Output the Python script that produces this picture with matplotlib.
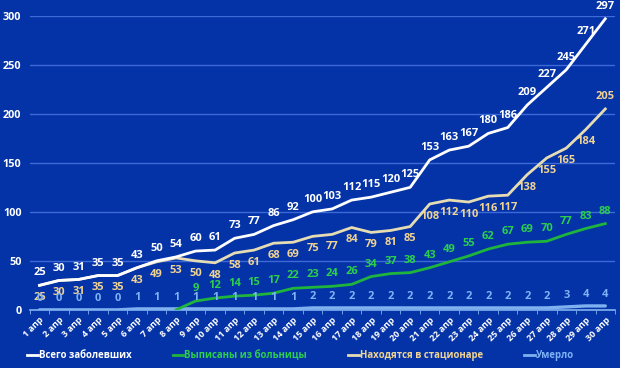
import matplotlib
matplotlib.use("Agg")
import matplotlib.pyplot as plt
from matplotlib.lines import Line2D
import numpy as np

# --- data: апрель, по дням ---
days = list(range(1, 31))
day_labels = [f"{d} апр" for d in days]
total = [25, 30, 31, 35, 35, 43, 50, 54, 60, 61, 73, 77, 86, 92, 100,
         103, 112, 115, 120, 125, 153, 163, 167, 180, 186, 209, 227, 245, 271, 297]
hospital = [25, 30, 31, 35, 35, 43, 49, 53, 50, 48, 58, 61, 68, 69, 75,
            77, 84, 79, 81, 85, 108, 112, 110, 116, 117, 138, 155, 165, 184, 205]
# выписанные: линия начинается с 8 апр (0), подписи с 9 апр
discharged = [None] * 7 + [0, 9, 12, 14, 15, 17, 22, 23, 24, 26, 34, 37, 38,
                           43, 49, 55, 62, 67, 69, 70, 77, 83, 88]
died = [0, 0, 0, 0, 0, 1, 1, 1, 1, 1, 1, 1, 1, 1, 2,
        2, 2, 2, 2, 2, 2, 2, 2, 2, 2, 2, 2, 3, 4, 4]

BG = "#0433a8"
GRID = "#3d6bd6"
C_TOT = "#ffffff"
C_HOS_LINE = "#e6dcb4"
C_HOS_TXT = "#f0d393"
C_DIS_LINE = "#1fb53c"
C_DIS_TXT = "#2ccf4c"
C_DIE_LINE = "#7fb0f0"
C_DIE_TXT = "#7fb2f5"

plt.rcParams.update({
    "font.family": ["Open Sans", "DejaVu Sans"],
    "font.weight": "bold",
})

fig = plt.figure(figsize=(6.2, 3.68), dpi=100, facecolor=BG)
ax = fig.add_axes([0.048, 0.158, 0.944, 0.799], facecolor=BG)

x = np.array(days)
dis = np.array([np.nan if v is None else v for v in discharged], dtype=float)

ax.plot(x, died, color=C_DIE_LINE, lw=2.4, solid_capstyle="round", zorder=3)
ax.plot(x, dis, color=C_DIS_LINE, lw=2, zorder=3)
ax.plot(x, hospital, color=C_HOS_LINE, lw=2, zorder=3)
ax.plot(x, total, color=C_TOT, lw=2, zorder=4)

fs = 8
for xi, v in zip(x, total):
    ax.annotate(f"{v}", (xi, v), xytext=(0, 5), textcoords="offset points",
                ha="center", va="bottom", color=C_TOT, fontsize=fs, fontweight="bold")
for i, (xi, v) in enumerate(zip(x, hospital)):
    if i == len(hospital) - 1:
        off, va = (0, 5), "bottom"
    else:
        off, va = (0, -5), "top"
    ax.annotate(f"{v}", (xi, v), xytext=off, textcoords="offset points",
                ha="center", va=va, color=C_HOS_TXT, fontsize=fs, fontweight="bold")
for i, (xi, v) in enumerate(zip(x, discharged)):
    if v is None or i < 8:
        continue
    ax.annotate(f"{v}", (xi, v), xytext=(0, 5), textcoords="offset points",
                ha="center", va="bottom", color=C_DIS_TXT, fontsize=fs, fontweight="bold")
for xi, v in zip(x, died):
    ax.annotate(f"{v}", (xi, v), xytext=(0, 4), textcoords="offset points",
                ha="center", va="bottom", color=C_DIE_TXT, fontsize=fs, fontweight="bold")

ax.set_xlim(0.55, 30.5)
ax.set_ylim(0, 300)
ax.set_yticks(range(0, 301, 50))
ax.set_xticks(x)
ax.set_xticklabels(day_labels, rotation=45, ha="right", rotation_mode="anchor",
                   fontsize=6.5, color="white", fontweight="bold")
ax.set_xticks(np.arange(0.5, 31, 1), minor=True)
ax.tick_params(axis="x", which="major", length=0, pad=4)
ax.tick_params(axis="x", which="minor", length=3, color=C_DIE_LINE)
ax.tick_params(axis="y", length=0, labelcolor="white", labelsize=7.8, pad=6)
for lab in ax.get_yticklabels():
    lab.set_fontweight("bold")
ax.yaxis.grid(True, color=GRID, lw=1)
ax.set_axisbelow(True)
for s in ("top", "right", "left"):
    ax.spines[s].set_visible(False)
ax.spines["bottom"].set_color(C_DIE_LINE)
ax.spines["bottom"].set_linewidth(1.2)

handles = [Line2D([], [], color=C_TOT, lw=2),
           Line2D([], [], color=C_DIS_LINE, lw=2),
           Line2D([], [], color=C_HOS_LINE, lw=2),
           Line2D([], [], color=C_DIE_LINE, lw=2)]
names = ["Всего заболевших", "Выписаны из больницы", "Находятся в стационаре", "Умерло"]
leg = fig.legend(handles, names, loc="lower left", bbox_to_anchor=(0.03, -0.005),
                 ncol=4, frameon=False, fontsize=6.9, handlelength=1.1,
                 handletextpad=0.1, columnspacing=4.3)
for t, c in zip(leg.get_texts(), [C_TOT, C_DIS_TXT, C_HOS_TXT, C_DIE_TXT]):
    t.set_color(c)
    t.set_fontweight("bold")

fig.savefig("out.png", dpi=100, facecolor=BG)
